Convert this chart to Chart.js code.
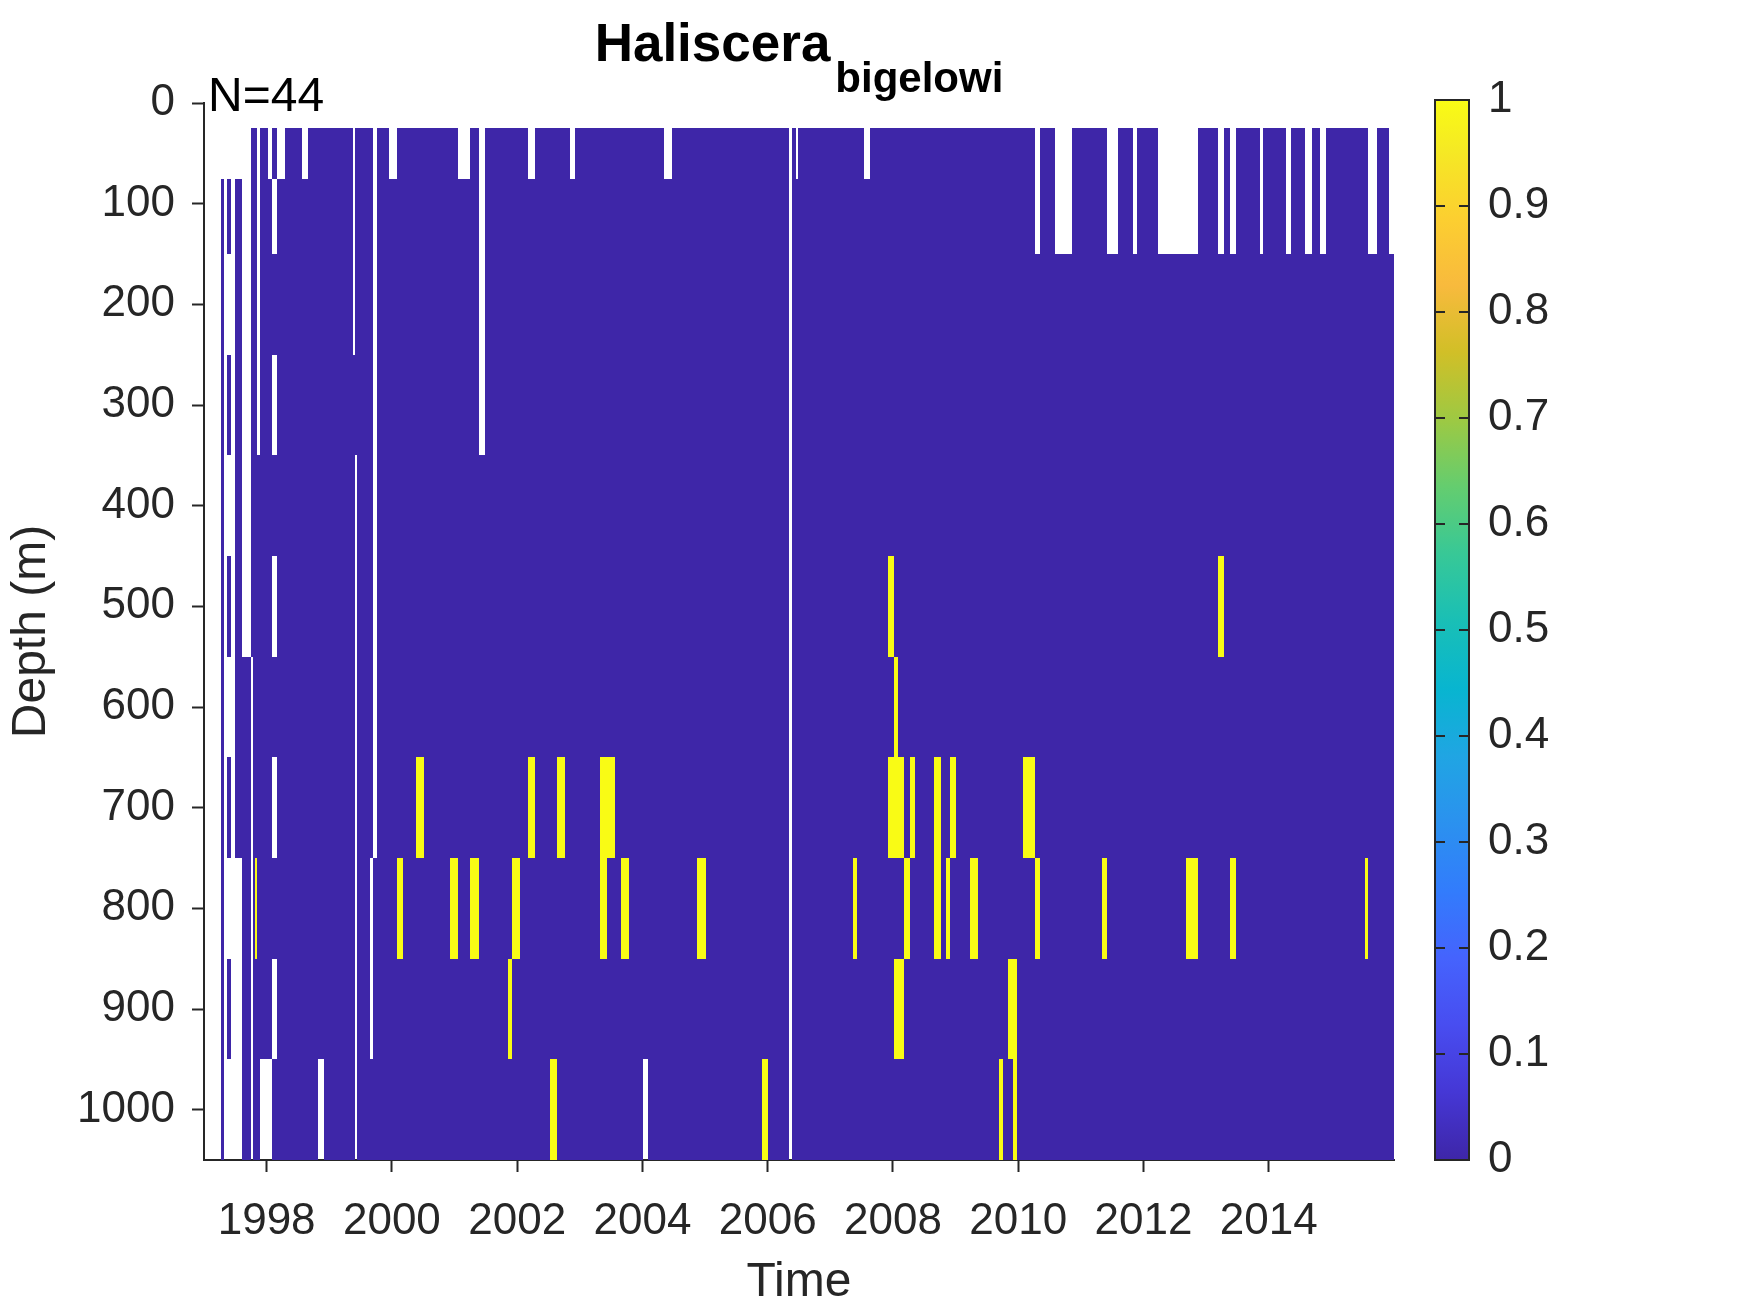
<!DOCTYPE html>
<html>
<head>
<meta charset="utf-8">
<script src="https://cdn.jsdelivr.net/npm/chart.js@4.4.1/dist/chart.umd.min.js"></script>
<style>
html,body{margin:0;padding:0;background:#ffffff;}
#wrap{position:relative;width:1750px;height:1313px;overflow:hidden;}
#main{position:absolute;left:0;top:0;}
#cbar{position:absolute;left:1400px;top:0;}
</style>
</head>
<body>
<div id="wrap">
<canvas id="main" width="1750" height="1313"></canvas>
<canvas id="cbar" width="350" height="1313"></canvas>
</div>
<script>
// ---------------- DATA ----------------
const titleGenus = 'Haliscera';
const titleSpecies = 'bigelowi';
const sampleCountLabel = 'N=44';
const xAxisTitle = 'Time';
const yAxisTitle = 'Depth (m)';

// depth bin edges (m), shallow -> deep
const depthEdges = [25, 75, 150, 250, 350, 450, 550, 650, 750, 850, 950, 1050];
const depthTicks = [0, 100, 200, 300, 400, 500, 600, 700, 800, 900, 1000];
const yearTicks = [1998, 2000, 2002, 2004, 2006, 2008, 2010, 2012, 2014];
const colorTicks = [0, 0.1, 0.2, 0.3, 0.4, 0.5, 0.6, 0.7, 0.8, 0.9, 1];

// time edges of the sample columns (decimal years)
const columnEdges = [
  1997.265, 1997.318, 1997.361, 1997.436, 1997.489, 1997.612, 1997.755, 1997.781, 1997.819, 1997.851,
  1997.888, 1998.016, 1998.084, 1998.164, 1998.287, 1998.570, 1998.659, 1998.819, 1998.910, 1999.381,
  1999.413, 1999.437, 1999.652, 1999.692, 1999.756, 1999.953, 2000.075, 2000.176, 2000.390, 2000.507,
  2000.922, 2001.050, 2001.241, 2001.385, 2001.481, 2001.848, 2001.912, 2002.040, 2002.167, 2002.279,
  2002.530, 2002.642, 2002.758, 2002.849, 2002.918, 2003.317, 2003.429, 2003.557, 2003.663, 2003.780,
  2004.008, 2004.083, 2004.339, 2004.478, 2004.877, 2005.010, 2005.915, 2006.000, 2006.343, 2006.383,
  2006.458, 2006.490, 2007.357, 2007.421, 2007.533, 2007.628, 2007.916, 2008.012, 2008.075, 2008.171,
  2008.278, 2008.358, 2008.662, 2008.767, 2008.842, 2008.906, 2009.002, 2009.225, 2009.358, 2009.688,
  2009.752, 2009.832, 2009.912, 2009.976, 2010.072, 2010.263, 2010.343, 2010.583, 2010.854, 2011.333,
  2011.413, 2011.588, 2011.833, 2011.892, 2012.238, 2012.685, 2012.866, 2013.185, 2013.281, 2013.377,
  2013.473, 2013.856, 2013.909, 2014.271, 2014.356, 2014.575, 2014.686, 2014.814, 2014.910, 2015.533,
  2015.580, 2015.729, 2015.916, 2016.000
];

// per column, one code per depth bin (shallow -> deep):
// '.' = not sampled, '0' = absent, '1' = present
const columnCodes = [
  '.0000000000', '...........', '.0.0.0.0.0.', '...........', '.0000000...',
  '......00000', '000000.....', '00000000000', '00000000100', '....0000000',
  '0000000000.', '.000000000.', '0.0.0.0.0.0', '.0000000000', '00000000000',
  '.0000000000', '00000000000', '0000000000.', '00000000000', '...00000000',
  '0000.......', '00000000000', '00000000..0', '........000', '00000000000',
  '.0000000000', '00000000100', '00000000000', '00000001000', '00000000000',
  '00000000100', '.0000000000', '00000000100', '....0000000', '00000000000',
  '00000000010', '00000000100', '00000000000', '.0000001000', '00000000000',
  '00000000001', '00000001000', '00000000000', '.0000000000', '00000000000',
  '00000001100', '00000001000', '00000000000', '00000000100', '00000000000',
  '0000000000.', '00000000000', '.0000000000', '00000000000', '00000000100',
  '00000000000', '00000000001', '00000000000', '...........', '00000000000',
  '.0000000000', '00000000000', '00000000100', '00000000000', '.0000000000',
  '00000000000', '00000101000', '00000011010', '00000001010', '00000000100',
  '00000001000', '00000000000', '00000001100', '00000000000', '00000000100',
  '00000001000', '00000000000', '00000000100', '00000000000', '00000000001',
  '00000000000', '00000000010', '00000000011', '00000000000', '00000001000',
  '..000000100', '00000000000', '..000000000', '00000000000', '00000000100',
  '..000000000', '00000000000', '..000000000', '00000000000', '..000000000',
  '..000000100', '00000000000', '..000100000', '00000000000', '..000000100',
  '00000000000', '..000000000', '00000000000', '..000000000', '00000000000',
  '..000000000', '00000000000', '..000000000', '00000000000', '00000000100',
  '..000000000', '00000000000', '..000000000'
];

// ---------------- STYLE ----------------
const FONT = '"Liberation Sans", Arial, Helvetica, sans-serif';
const TEXT = '#262626';
const LOW = 'rgb(62,38,168)';
const HIGH = 'rgb(249,251,21)';
const parula = [
  [0.000, 'rgb(62,38,168)'], [0.0635, 'rgb(69,55,213)'], [0.127, 'rgb(72,77,240)'],
  [0.190, 'rgb(69,99,253)'], [0.254, 'rgb(50,124,252)'], [0.317, 'rgb(43,145,239)'],
  [0.381, 'rgb(32,165,227)'], [0.444, 'rgb(8,181,208)'], [0.508, 'rgb(25,191,182)'],
  [0.571, 'rgb(55,200,151)'], [0.635, 'rgb(100,205,111)'], [0.698, 'rgb(157,201,67)'],
  [0.762, 'rgb(209,191,39)'], [0.825, 'rgb(248,186,61)'], [0.889, 'rgb(252,207,48)'],
  [0.952, 'rgb(245,233,36)'], [1.000, 'rgb(249,251,21)']
];

// ---------------- MAIN HEATMAP ----------------
const cellPlugin = {
  id: 'cells',
  beforeDatasetsDraw(chart) {
    const {ctx, chartArea: a, scales: {x, y}} = chart;
    ctx.save();
    ctx.beginPath();
    ctx.rect(a.left, a.top, a.right - a.left, a.bottom - a.top);
    ctx.clip();
    for (let i = 0; i < columnCodes.length; i++) {
      const xa = Math.round(x.getPixelForValue(columnEdges[i]));
      const xb = Math.round(x.getPixelForValue(columnEdges[i + 1]));
      const code = columnCodes[i];
      for (let j = 0; j < code.length; j++) {
        const c = code[j];
        if (c === '.') continue;
        const ya = Math.round(y.getPixelForValue(depthEdges[j]));
        const yb = Math.round(y.getPixelForValue(depthEdges[j + 1]));
        ctx.fillStyle = c === '1' ? HIGH : LOW;
        ctx.fillRect(xa, Math.min(ya, yb), xb - xa, Math.abs(yb - ya));
      }
    }
    ctx.restore();
  },
  afterDraw(chart) {
    const {ctx, chartArea: a} = chart;
    ctx.save();
    ctx.fillStyle = '#000';
    ctx.textBaseline = 'alphabetic';
    ctx.textAlign = 'left';
    const fMain = 'bold 53px ' + FONT;
    const fSub = 'bold 42px ' + FONT;
    ctx.font = fMain; const wM = ctx.measureText(titleGenus).width;
    ctx.font = fSub; const wS = ctx.measureText(titleSpecies).width;
    const gap = 5;
    const cx = (a.left + a.right) / 2;
    const x0 = cx - (wM + gap + wS) / 2;
    ctx.font = fMain; ctx.fillText(titleGenus, x0, 61);
    ctx.font = fSub; ctx.fillText(titleSpecies, x0 + wM + gap, 92);
    ctx.font = '48px ' + FONT;
    ctx.fillText(sampleCountLabel, a.left + 4, 111);
    ctx.restore();
  }
};

new Chart(document.getElementById('main'), {
  type: 'scatter',
  data: {datasets: []},
  options: {
    responsive: false,
    animation: false,
    devicePixelRatio: 1,
    layout: {padding: {left: 0, top: 103, right: 356, bottom: 0}},
    plugins: {legend: {display: false}, tooltip: {enabled: false}, title: {display: false}},
    scales: {
      x: {
        type: 'linear', position: 'bottom', min: 1997, max: 2016, z: 1,
        afterFit(s) { s.height = 153; },
        afterBuildTicks(s) { s.ticks = yearTicks.map(v => ({value: v})); },
        grid: {display: true, drawOnChartArea: false, drawTicks: true, tickLength: 12, tickWidth: 2, tickColor: TEXT},
        border: {display: true, color: TEXT, width: 2},
        ticks: {font: {family: FONT, size: 44}, color: TEXT, padding: 23, maxRotation: 0, autoSkip: false,
                callback: v => String(v)},
        title: {display: true, text: xAxisTitle, font: {family: FONT, size: 48}, color: TEXT, padding: {top: 0, bottom: 1}}
      },
      y: {
        type: 'linear', position: 'left', reverse: true, min: 0, max: 1050, z: 1,
        afterFit(s) { s.width = 204; },
        afterBuildTicks(s) { s.ticks = depthTicks.map(v => ({value: v})); },
        grid: {display: true, drawOnChartArea: false, drawTicks: true, tickLength: 12, tickWidth: 2, tickColor: TEXT},
        border: {display: true, color: TEXT, width: 2},
        ticks: {font: {family: FONT, size: 44}, color: TEXT, padding: 17, autoSkip: false,
                callback: v => String(v)},
        title: {display: true, text: yAxisTitle, font: {family: FONT, size: 48}, color: TEXT, padding: {top: 3, bottom: 0}}
      }
    }
  },
  plugins: [cellPlugin]
});

// ---------------- COLORBAR ----------------
const cbarPlugin = {
  id: 'cbar',
  beforeDatasetsDraw(chart) {
    const {ctx, chartArea: a, scales: {y}} = chart;
    ctx.save();
    const g = ctx.createLinearGradient(0, y.getPixelForValue(0), 0, y.getPixelForValue(1));
    parula.forEach(([p, c]) => g.addColorStop(p, c));
    ctx.fillStyle = g;
    ctx.fillRect(a.left, a.top, a.right - a.left, a.bottom - a.top);
    ctx.strokeStyle = TEXT;
    ctx.lineWidth = 2;
    colorTicks.forEach(v => {
      const py = Math.round(y.getPixelForValue(v));
      ctx.beginPath();
      ctx.moveTo(a.left, py); ctx.lineTo(a.left + 10, py);
      ctx.moveTo(a.right - 10, py); ctx.lineTo(a.right, py);
      ctx.stroke();
    });
    ctx.strokeRect(a.left, a.top, a.right - a.left, a.bottom - a.top);
    ctx.restore();
  }
};

new Chart(document.getElementById('cbar'), {
  type: 'scatter',
  data: {datasets: []},
  options: {
    responsive: false,
    animation: false,
    devicePixelRatio: 1,
    layout: {padding: {left: 35, top: 100, right: 0, bottom: 153}},
    plugins: {legend: {display: false}, tooltip: {enabled: false}},
    scales: {
      x: {type: 'linear', display: false, min: 0, max: 1},
      y: {
        type: 'linear', position: 'right', min: 0, max: 1,
        afterFit(s) { s.width = 281; },
        afterBuildTicks(s) { s.ticks = colorTicks.map(v => ({value: v})); },
        grid: {display: false, drawTicks: false},
        border: {display: false},
        ticks: {font: {family: FONT, size: 44}, color: TEXT, padding: 19, autoSkip: false,
                callback: v => (v === 0 ? '0' : v === 1 ? '1' : v.toFixed(1))}
      }
    }
  },
  plugins: [cbarPlugin]
});
</script>
</body>
</html>
